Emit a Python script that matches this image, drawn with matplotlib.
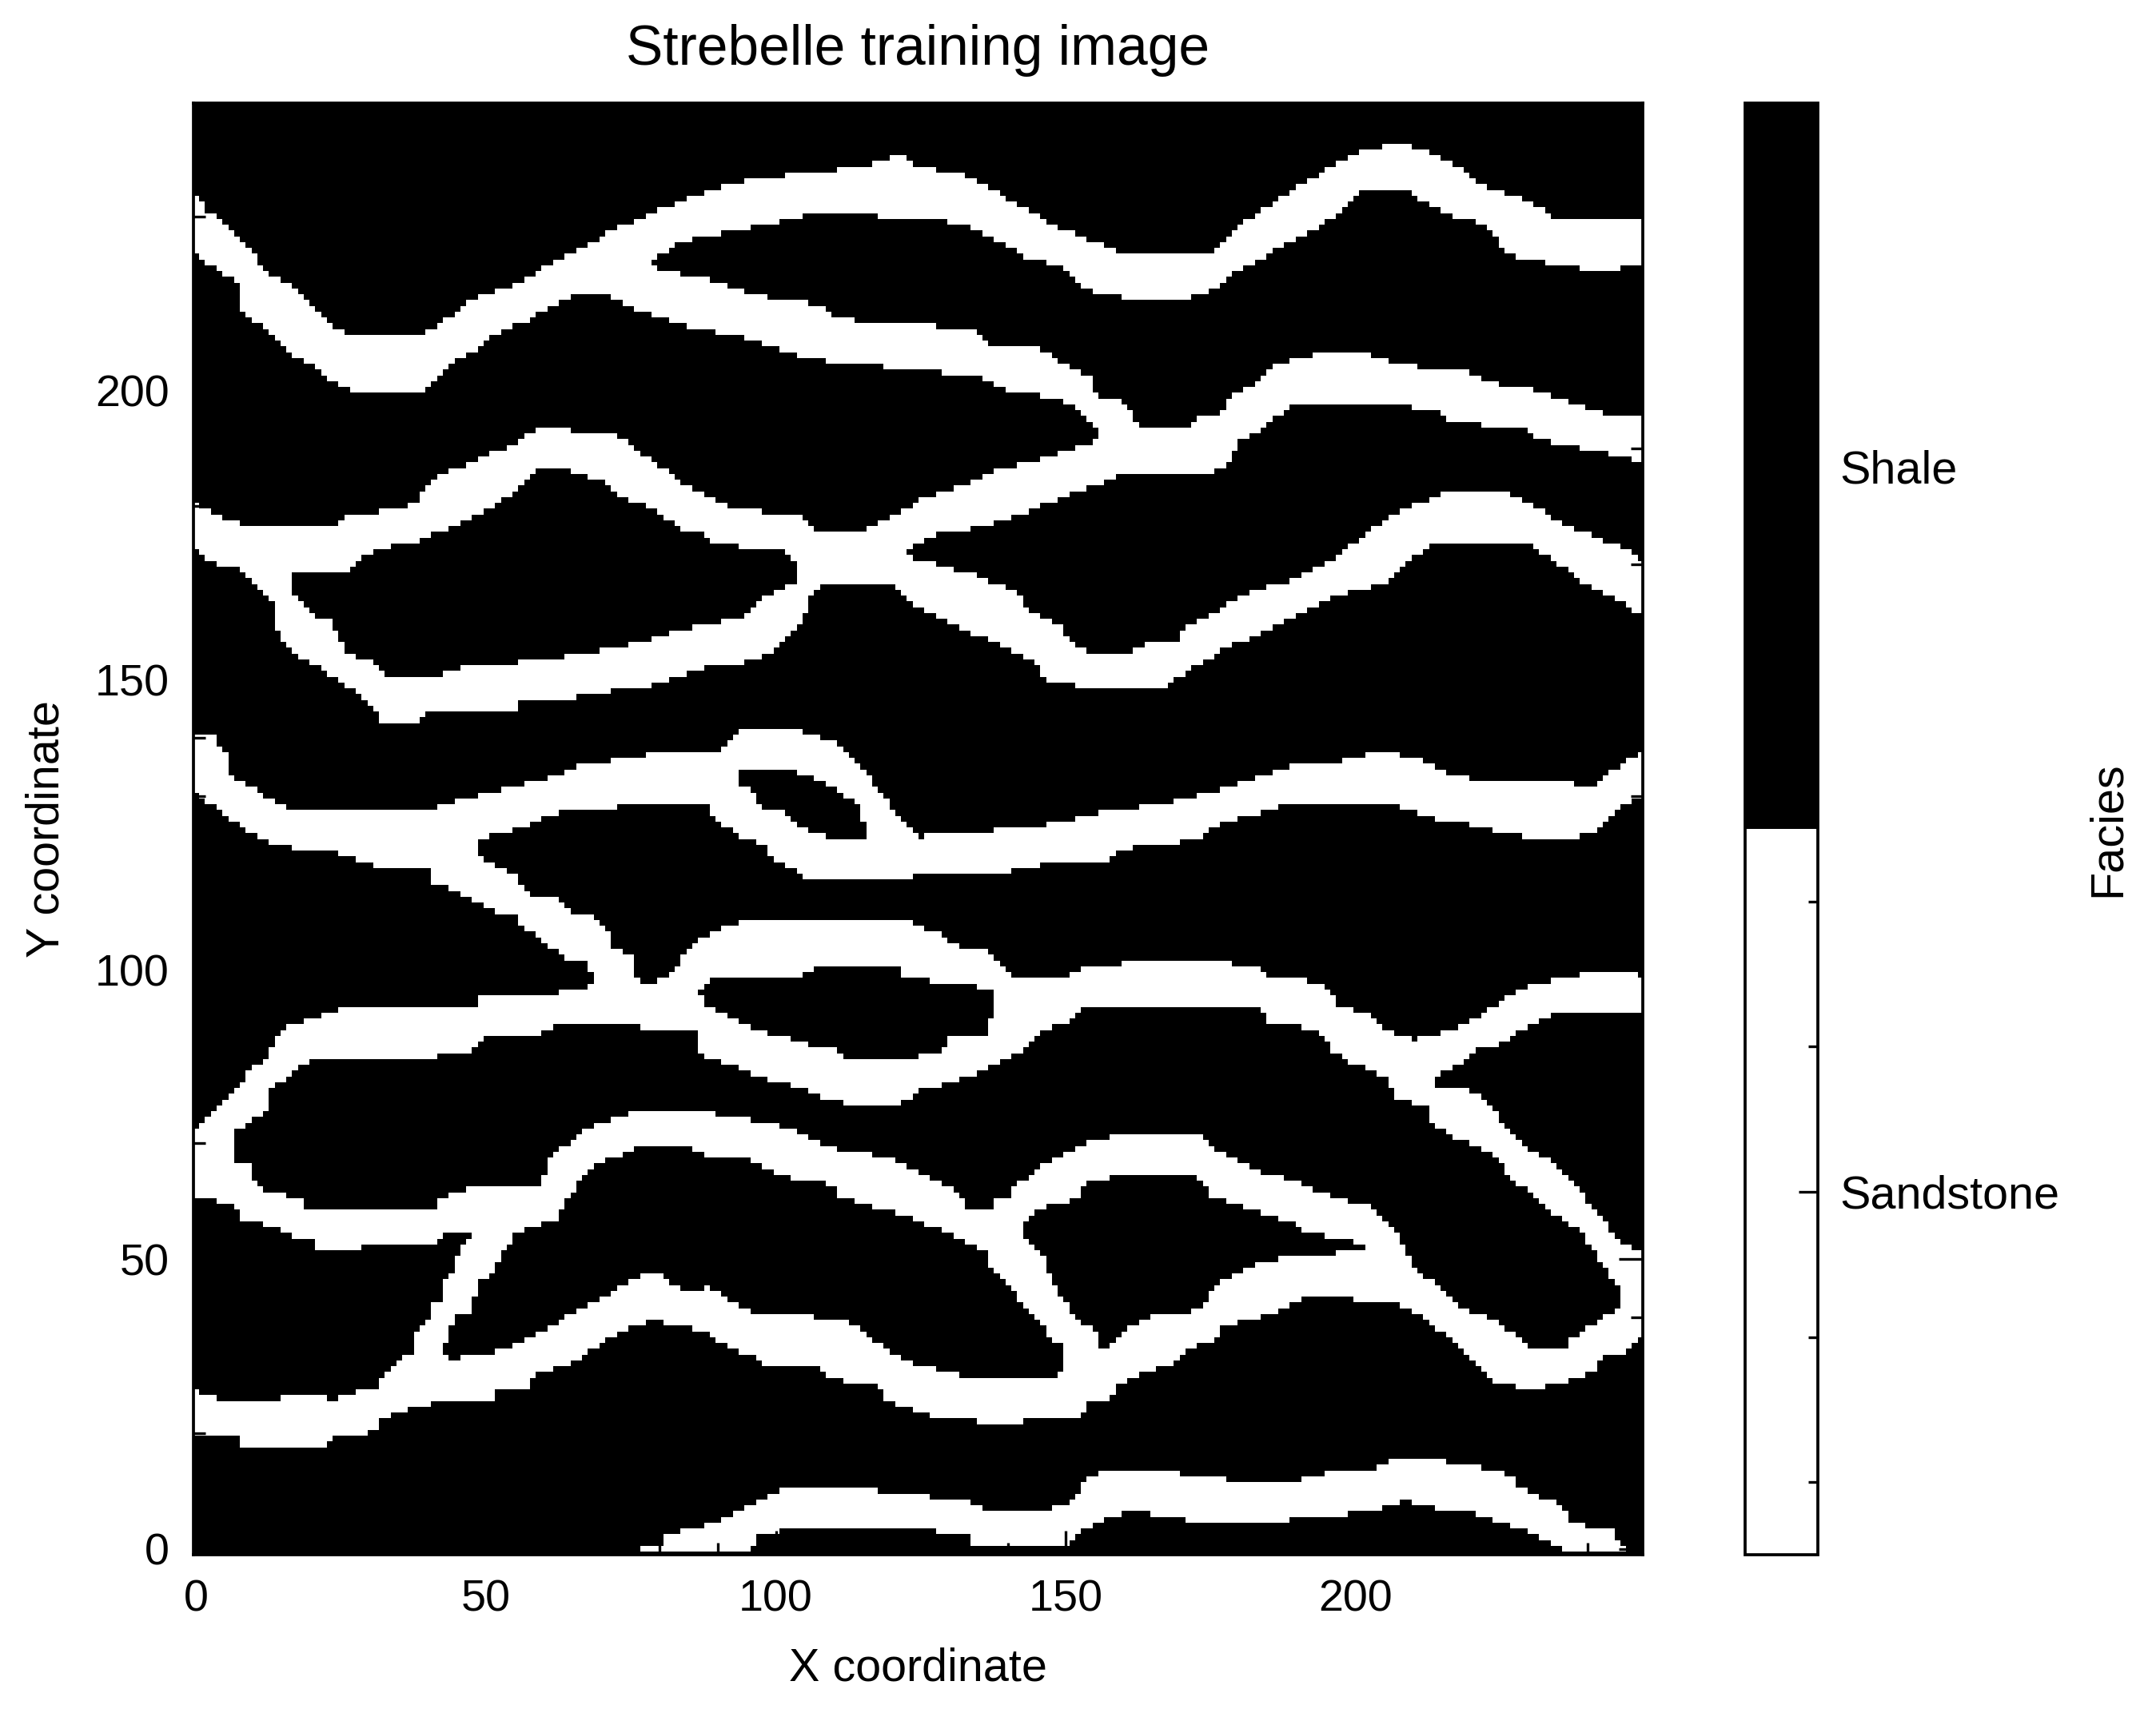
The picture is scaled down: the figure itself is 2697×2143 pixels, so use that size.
import matplotlib
matplotlib.use("Agg")
import matplotlib.pyplot as plt
import numpy as np
from matplotlib.colors import ListedColormap
from matplotlib.path import Path
from matplotlib.ticker import FixedLocator, MultipleLocator

plt.rcParams['font.family'] = ['Liberation Sans', 'DejaVu Sans']

# channel edges, (x, y) in grid units
CH1_UPPER = [(-1,235),(2.3,230.6),(8,225.8),(12.2,220.3),(17.1,217.4),(23.7,210.4),(27,209.6),(36,209.6),(38.5,209.2),(42.6,211.7),(48.4,216.2),(55,218.2),(62.4,222.4),(71.4,227.3),(79.6,231),(87.9,234.3),(96.1,236.3),(105.9,237.6),(114.2,238.4),(121.6,240.5),(124,238.8),(133.4,236.8),(138.4,233.9),(144.1,230.6),(149,227.7),(157.3,224.8),(159.8,223.6),(175.4,223.6),(179.5,228.1),(187.7,233.5),(192.7,236.8),(196.8,239.2),(201.7,241.4),(206.6,242.5),(211.6,241.7),(216.5,239.2),(221.4,235.5),(229.7,232.6),(234.6,229.6),(250,229.6)]
CH1_LOWER = [(-1,223.6),(3.2,221.1),(7.3,218.3),(8.1,213.3),(13.8,209.2),(15.5,206.3),(21.2,203.5),(24.5,200.6),(28.2,199.5),(39.3,199.5),(43.5,204.3),(48.4,206.7),(50.9,209.2),(57.4,212.1),(63.2,215.4),(65.7,216.4),(70.6,216.4),(78.4,222.4),(83.7,225.5),(91.6,227.3),(102.7,229.4),(106.8,230.6),(124.4,229.6),(129.3,229),(134.3,227.7),(139.2,225.2),(143.3,222.8),(149.1,221.1),(152.4,217.8),(155.6,216.6),(162.2,215.6),(170.5,215.6),(177,218.2),(178.7,220.3),(183.6,222.4),(187.7,225.2),(192.7,227.7),(197.6,230.6),(200.9,234.3),(208.7,234.3),(212.8,231.8),(216.5,229.8),(222.3,228.5),(225.6,224),(228,222.8),(232.1,222),(241.6,220.6),(250,221.5)]
CH2_UPPER = [(78.4,222.4),(79.6,220.6),(86.6,219.5),(96.5,216.4),(108.8,214.4),(109.7,212.5),(117.9,211.5),(124.4,211.5),(134.3,210),(137.3,207.6),(145.4,207.4),(149.9,204.3),(154.4,202.2),(154.4,199.3),(159.8,198.1),(162.2,194.4)]
CH2_LOWER = [(70.6,216.4),(76.4,213.7),(84.6,210.9),(94.4,209.2),(101.8,206.3),(111.7,204.4),(124.4,203.6),(135.1,202.2),(140,199.8),(149.1,198.5),(152.8,196.1),(155.6,192.3),(155.6,190.3)]
CH3_UPPER = [(115.8,175.9),(121.6,179.2),(125.2,181.2),(133.4,184.1),(138.4,186.2),(149.1,189.1),(155.6,191.5),(161.4,194.4),(165.5,193.3),(170.5,193.3),(172.9,195.2),(176.6,195.6),(178.7,199.3),(183.6,201.8),(185.7,204.4),(193.5,206.3),(201.7,206.3),(206.6,204.7),(212.8,203.6),(219.8,203),(222.3,201.4),(227.6,200.6),(233,199.3),(237.9,197.7),(243.6,195.6),(250,195.4)]
CH3_LOWER = [(122.5,172),(124.4,173.4),(127.7,175.1),(133.4,175.9),(142.1,178.4),(150.7,182.1),(156.5,184.1),(159.8,185.4),(173.7,185.4),(178.3,187.4),(179.5,191.5),(183.6,192.8),(188.5,197.3),(207.5,197.3),(213.6,196.5),(216.9,194.4),(229.7,193.2),(230.5,191.5),(239.5,189.9),(250,187.4)]
CH4_UPPER = [(-1,181.2),(3.2,178.4),(8.9,176.3),(24.1,176.3),(25.4,178.2),(32.4,179.2),(38.1,180.4),(39.3,183.3),(43.5,186.2),(47.6,187.4),(50.9,189.3),(54.6,190.3),(57.4,192.3),(59.9,193.4),(72.2,192.3),(76.4,189.4),(81.3,185.8),(84.6,183.3),(89.5,181.2),(92.8,179.6),(104.3,178.1),(106.8,175.5),(121,175.5),(122.5,172),(124.4,170.1),(127.3,170.1),(132.6,168.5),(140.9,165.6),(144.1,161.5),(148.2,159.9),(152.4,155.4),(154.4,154.1),(160.2,154.1),(163.5,156.2),(169.2,156.2),(169.6,158.2),(174.6,161.1),(179.5,164),(184.4,166),(189.4,167.3),(192.7,168.9),(196,171),(200.9,174.3),(205.4,178),(211.6,180.8),(214.9,182.2),(225.6,182.2),(230.9,179.6),(237,176.3),(242,174.3),(246.9,172.2),(250,169.3)]
CH4_LOWER = [(-1,173),(2.3,170.1),(7.3,169.7),(16.3,168.3),(25.4,168.3),(30.3,172.2),(38.5,174),(45.1,176.7),(53.3,181.2),(58.7,186.2),(63.6,186.2),(69.8,184.5),(73.5,181.2),(78.8,179.6),(82.9,176.3),(87.1,175.1),(89.9,173.4),(101.8,172.2),(103.9,168.5),(107.6,166),(120.8,166),(124.4,162.3),(129.3,160.3),(133.4,158.2),(140,155.3),(144.1,153.3),(147.4,149.2),(166.3,148.2),(170.5,151.2),(177.4,155.3),(183.6,158.2),(191.8,161.9),(195.9,164.4),(205.8,166.9),(208.7,170.1),(214,173.8),(228.8,174),(234.6,170.1),(239.5,166.4),(244.9,164),(250,160.3)]
CH5_UPPER = [(16.3,168.1),(17.1,164.4),(19.6,161.5),(23.3,159.9),(26.2,154.5),(30.3,152.9),(33.3,150.2),(41,150.2),(45.5,152.1),(56.6,153.1),(64.4,154.1),(74.7,156.1),(85.8,159),(94.9,161.1),(97.7,164),(102.7,166.4),(103.9,168.5)]
CH5_LOWER = [(7.3,169.7),(11.4,165.6),(13,163.2),(14.3,157.4),(17.9,153.7),(23.3,150.8),(29,146.7),(32.4,142.2),(38.5,142.2),(39.3,144),(55.4,144.2),(55.8,146),(63.2,146.7),(79.6,149.2),(87.9,152.1),(96.5,153.3),(100.2,155.8),(104.3,159.9),(105.9,164),(107.6,166)]
CH6_UPPER = [(-1,141),(3.2,140.1),(6,136),(6,133.1),(10.1,131.1),(15.1,128),(35.2,127),(41,127.8),(44.3,129),(52.5,131.1),(59.9,132.7),(65.7,135),(77.6,137),(90.7,137),(91.2,139.3),(94.9,141.8),(102.7,141.8),(110.9,138.9),(115,134.4),(119.9,127.8),(122.4,124.5),(124.4,122.9),(134.3,123.7),(146.6,125),(155.6,127),(167.2,128.6),(177,131.1),(188.5,135),(197.6,136),(204.6,137.8),(211.6,136),(217.7,133.1),(234.6,132.1),(241.2,131.9),(244.9,134.8),(250,137.8)]
CH6_LOWER = [(-1,131.1),(4,127.4),(7.7,124.5),(11.4,122.4),(14.3,121.2),(24.1,120.2),(31.1,117.9),(47.6,121.6),(51.7,123.7),(55.4,124.1),(62.4,127),(72.6,128),(80.5,129),(87.9,128.6),(89.5,125.3),(91.6,124.5),(93.6,122.9),(97.7,121.6),(99.8,118.7),(104.7,116.7),(104.7,115),(121.6,115),(124.4,116.9),(140.4,116.9),(148.2,118.7),(157.3,118.7),(159.8,120.8),(172.9,122.4),(175.4,124.5),(178.7,125.7),(186.9,128),(196.8,129),(206.6,128.2),(214.9,125.7),(220.6,124.9),(226,123.2),(236.2,122.2),(241.2,123.7),(244.9,127.8),(250,129.8)]
CH7_UPPER = [(47.6,121.6),(49.6,118.7),(54.6,116.7),(57.4,113),(61.5,112.8),(64.4,109.7),(67.7,109.5),(70.6,107.6),(71.8,103.9),(75.5,102.3),(76,99),(76.8,97.8)]
CH7_LOWER = [(31.1,117.9),(40.2,117.9),(40.6,115),(43.5,114.2),(47.6,111.8),(51.7,109.7),(55.4,109.3),(55.8,107.6),(60.3,104.4),(63.6,101.9),(67.3,101.5),(68.5,98.2),(67.3,96.9)]
BOTTOM_UPPER = [(76.8,0),(80.5,1.1),(80.5,2),(84.6,3.2),(87.9,4),(90.7,5.2),(92.8,6.1),(96.5,8.1),(99,9.4),(101.8,10.4),(117.9,10.4),(117.9,9.4),(124.4,9.4),(125.2,10.2),(127.3,8.4),(133.4,8.1),(136.3,6.5),(144.1,6.5),(149.1,7.3),(151.5,8.5),(153.6,12.2),(156.5,13.3),(163.5,13.5),(172.5,12.7),(182.4,11.4),(187.7,11.4),(195.5,13.3),(202.5,13.5),(205.8,15.3),(213.6,15.3),(219.8,14.3),(223.9,13.3),(228,12.2),(228,10.4),(230.9,9.4),(235.8,7.3),(236.7,4.5),(239.9,4),(244.9,3.2),(244.9,1.1),(246.9,0.3)]
BOTTOM_LOWER = [(76.8,-0.3),(93.6,-0.3),(96.5,0.3),(96.5,2.4),(102.7,3.4),(124.4,3.4),(133.4,2.3),(134.3,0.3),(150.3,0.3),(152.4,3.2),(156.5,5.2),(161.4,6.5),(169.6,5.2),(174.6,4.3),(192.7,5.2),(202.5,6.5),(208.7,8.4),(210.7,7.7),(215.7,6.5),(220.6,6.1),(225.6,4.4),(227.6,3.6),(229.7,2.8),(232.9,1.1),(235.8,-0.3),(246.9,-0.3)]

# the connected lower network, one outline, with its shale lenses below
NETWORK_OUTLINE = [(-1,60.8),(-1,71.9),(3.2,75.6),(7.3,79.7),(8.9,82.6),(12.2,84.2),(13.4,87.9),(15.5,90),(20.4,91.6),(26.6,93.7),(48.4,93.7),(48.4,95.7),(62.4,95.7),(62.8,97),(67.3,96.9),(76.8,97.8),(79.6,97.8),(82.9,99.8),(84.6,103.5),(87.1,105.6),(91.6,107.6),(96.5,108.9),(121.6,108.9),(124.4,107.6),(128.1,106),(131.4,103.9),(136.7,103.5),(137.6,101.5),(141.3,98),(147.4,98),(153.2,100.2),(163.5,101.5),(173.7,101.5),(183.6,100.5),(184.4,98.8),(190.6,98.6),(195.5,96.5),(196.8,93.7),(201.7,92.4),(205.8,89.1),(210.3,87.9),(216.9,89.5),(223.9,93.7),(228,96.5),(233,97.8),(241.6,99.8),(250,98.8),
                   (250,92.8),(234.6,92.8),(228.8,89.5),(223.9,86.7),(220.6,86.7),(218.6,84.2),(215.7,82.6),(213.6,81.6),(213.6,79.7),(220.6,78.9),(223.7,76.3),(225.7,72.4),(227.8,70.3),(230.6,68.2),(234.8,66.4),(235.8,64.3),(237.8,62.3),(239.8,60.4),(240.8,58.3),(242.8,56.3),(244.8,53.3),(246.8,52.4),(248.9,51.2),(250,50.5),
                   (250,37.4),(248.9,36.3),(247.8,35.4),(246.8,34.4),(244.8,33.3),(242.8,33.3),(241.2,30.8),(234.6,28.3),(228.8,27.5),(223.5,29.1),(221.4,31.6),(217.7,34.5),(214.9,37.3),(211.6,39.8),(208.7,41.4),(205.8,42.7),(196.8,43.1),(191.8,43.5),(185.7,40.6),(177.4,38.6),(175.4,36.1),(171.3,34.5),(167.6,31.6),(162.6,30.3),(158.5,27.9),(157.3,25.4),(153.2,25.4),(152.8,22.5),(145.4,22.5),(140.4,21.5),(128.5,22.5),(124.4,23.4),(122,24.6),(118.7,25.4),(117.9,28.3),(112.5,28.7),(108.8,29.5),(107.6,31.6),(98.6,31.6),(94.9,33.6),(91.6,34.5),(87.9,37.7),(81.3,38.6),(78.8,39.4),(75.5,38.6),(71.4,36.5),(68.5,34.5),(64.4,31.6),(58.7,30.3),(57,27.5),(51.3,27.5),(51.3,25.4),(41.4,25.4),(37.7,24.2),(31.5,22.5),(31.1,20.5),(28.2,19.2),(23.3,19.2),(22.1,17.6),(8.1,17.6),(7.3,19.2),(-1,19.4),
                   (-1,27.5),(1.1,26.6),(5.2,25.4),(14.3,25.4),(14.3,26.5),(20.4,26.5),(24.1,25.4),(24.5,26.5),(31.1,27.5),(31.5,29.5),(33.6,31.6),(35.6,33.6),(37.3,33.6),(37.7,37.3),(40.2,39.4),(41,42.3),(42.5,42.7),(42.6,45.5),(44.3,48.4),(45.5,51.7),(47.6,54.6),(43.5,54.6),(41.4,52.5),(20.3,51.7),(20.3,53.4),(16.3,53.8),(14.3,55.4),(8.1,56.7),(6,59.5)]

LENS_SMALL = [(93.6,134),(103.5,134),(107.6,132.7),(113.8,128.6),(115.8,122.9),(116.7,122),(111.7,122),(104.7,124.1),(101.8,127),(96.5,128.2),(96.5,130.7),(93.6,131.9)]
LENS_BIG = [(20.4,84.6),(41.4,84.6),(41.4,85.8),(47.6,85.8),(49.6,88.7),(59.5,88.7),(62.8,90.8),(76.4,90.8),(76.8,89.8),(86.6,89.1),(86.6,85.8),(88.7,84.6),(91.6,83.8),(96.5,81.7),(99,80.9),(103.9,79.7),(107.6,77.8),(112.5,76.8),(121.6,76.8),(124.4,78.9),(130.2,80.5),(134.3,81.7),(139.2,84.2),(143.3,86.7),(145.4,89.5),(151.5,91.2),(152.8,93.7),(183.6,93.7),(184.8,90.8),(193.5,89.5),(195.8,85.8),(198.4,84.2),(202.5,82.6),(205.8,80.5),(206.6,77.6),(212.8,76.4),(212.8,73.5),(216.9,71),(223.7,68.2),(226.7,63.4),(228.8,62.3),(231.8,59.3),(234.8,57.3),(237.8,55.4),(239.8,53.3),(241.7,50.3),(243.7,47.3),(244.8,45.2),(245.8,44.3),(244.8,41.3),(241.7,39.3),(239.8,38.3),(238.7,37.2),(236.8,36.3),(235.8,34.4),(229.7,34.4),(228.8,36.3),(226.7,37.2),(225.7,38.3),(223.7,39.3),(222.7,40.2),(220.6,40.6),(217.7,41.4),(215.7,44.3),(209.9,48.4),(208.3,52.1),(205.8,55.8),(203.3,58.7),(200.5,59.5),(193.5,61.6),(188.5,63.6),(181.6,65.7),(177.4,67.8),(174.6,69.8),(172.5,71.5),(159.8,71.5),(155.6,70.6),(152.8,69.6),(147.4,67.3),(143.3,63.6),(140.4,62.8),(140.4,60.8),(137.1,60.4),(137.1,58.7),(133,58.7),(130.2,62.8),(127.3,63.2),(124.4,65.3),(118.3,67.8),(110.9,68.6),(103.5,71.9),(99.4,73.5),(89.5,74.9),(86.2,75.6),(76.4,75.6),(70.6,73.5),(66.5,72.3),(64.4,70.2),(61.5,68.6),(60.3,66.1),(59.5,62.4),(47.6,62.4),(41.4,60.5),(41.4,58.7),(18.4,58.7),(18.4,60.4),(12.2,61.6),(10.1,62.8),(8.9,66.5),(6.3,66.9),(6.3,70.6),(7.3,72.7),(9.3,73.5),(12.2,75.6),(12.2,78.9),(15.1,80.9),(17.1,82.5)]
LENS_MID = [(86.6,95.7),(87.9,97.8),(92.8,98.8),(104.7,99),(106.8,100.6),(120.8,100.6),(121.6,99),(124.4,98.8),(127.3,97.8),(136.3,96.8),(137.3,95.7),(137.3,92.8),(138.4,92.4),(137.3,92),(136.3,88.7),(130.2,88.3),(128.1,85.8),(124.4,84.9),(111.7,84.9),(111.7,85.8),(106.8,86.7),(101.8,88.3),(97.7,89.1),(93.6,91.2),(89.5,92.8),(87.9,93.7)]
LENS_LOW_LEFT = [(42.6,34),(44.3,39),(45.1,40.2),(47.6,40.6),(48.4,45.5),(50.9,47.6),(52.5,50.5),(54.6,53.8),(57.4,55.4),(62.4,56.7),(62.8,58.7),(65.7,62.8),(67.7,64.9),(69.8,66.7),(73.5,67.8),(76.4,69.6),(84.6,69.6),(87.9,67.8),(94.9,67.8),(97.7,65.7),(103.5,63.6),(110.5,62.8),(110.9,60.8),(117.9,58.7),(124.4,56.7),(131.4,53.4),(136.3,51.3),(136.3,48.8),(140,45.5),(142.5,42.3),(145,39.4),(147.4,36.1),(149.3,35.3),(149.3,30.8),(148.7,29.5),(134.3,29.5),(124.4,31.6),(118.7,34.5),(115,37.3),(112.5,39.4),(104.7,40.2),(96.9,40.6),(91.6,42.7),(88.7,45.2),(84.6,44.7),(81.7,45.5),(79.6,47.4),(77.6,47.4),(73.5,45.5),(70.6,43.5),(65.7,41.4),(62.4,39),(58.7,36.9),(53.3,34.5),(47.6,33.2),(43.5,32.8)]
LENS_LOW_RIGHT = [(142.2,56.2),(145.4,58.7),(148.7,59.5),(152.4,60.8),(152.8,62.8),(156.5,63.6),(159.8,64.6),(171.3,64.6),(173.7,63.2),(174.6,60.8),(179.5,59.5),(184.4,57.5),(188.5,56.7),(190.6,54.6),(198.4,53.4),(200.9,52.5),(201.7,51.3),(188.5,50.5),(183.6,49.5),(179.5,47.6),(175.4,45.5),(173.7,41.4),(169.6,40.5),(165.5,40.2),(161.4,38.6),(158.1,36.1),(157.3,34.9),(155.5,34.9),(155.5,37.3),(152.4,39),(149.5,42.7),(147.4,46.8),(146.2,50.1),(144.1,52.5),(142.2,54.2)]

FACIES_NAMES = ["Sandstone", "Shale"]
FACIES_TICKS = [0.25, 0.75]
FACIES_MINOR = [0.05, 0.15, 0.35, 0.45, 0.55, 0.65, 0.85, 0.95]
NX, NY = 250, 250


def inside(outline, points):
    return Path(outline).contains_points(points).reshape(NY, NX)


def build_grid():
    xx, yy = np.meshgrid(np.arange(NX), np.arange(NY))
    points = np.column_stack([xx.ravel(), yy.ravel()])
    grid = np.ones((NY, NX))  # 1 = shale

    ribbons = [(CH1_UPPER, CH1_LOWER), (CH2_UPPER, CH2_LOWER), (CH3_UPPER, CH3_LOWER),
               (CH4_UPPER, CH4_LOWER), (CH5_UPPER, CH5_LOWER), (CH6_UPPER, CH6_LOWER),
               (CH7_UPPER, CH7_LOWER), (BOTTOM_UPPER, BOTTOM_LOWER)]
    for upper, lower in ribbons:
        grid[inside(upper + lower[::-1], points)] = 0
    grid[inside(NETWORK_OUTLINE, points)] = 0

    for lens in (LENS_SMALL, LENS_BIG, LENS_MID, LENS_LOW_LEFT, LENS_LOW_RIGHT):
        grid[inside(lens, points)] = 1
    return grid


W, H = 2697, 2143
fig = plt.figure(figsize=(W / 300, H / 300), dpi=300)
ax = fig.add_axes([241.5 / W, 1 - 1945 / H, (2055 - 241.5) / W, (1945 - 129) / H])
cax = fig.add_axes([2183 / W, 1 - 1945 / H, (2274 - 2183) / W, (1945 - 129) / H])

cmap = ListedColormap(["white", "black"])
im = ax.imshow(build_grid(), origin="lower", cmap=cmap, vmin=0, vmax=1,
               extent=(-0.5, 249.5, -0.5, 249.5), interpolation="nearest", aspect="auto")
ax.set_facecolor("black")
ax.set_xlim(-0.5, 249.5)
ax.set_ylim(-1, 249.6)

ax.xaxis.set_major_locator(MultipleLocator(50))
ax.yaxis.set_major_locator(MultipleLocator(50))
ax.xaxis.set_minor_locator(MultipleLocator(10))
ax.yaxis.set_minor_locator(MultipleLocator(10))
ax.tick_params(which="both", direction="in", top=True, right=True, width=0.8, labelsize=13.4)
ax.tick_params(which="major", length=7.2, pad=7.2)
ax.tick_params(which="minor", length=3.6)
for spine in ax.spines.values():
    spine.set_linewidth(0.9)

ax.set_title("Strebelle training image", fontsize=16.7, pad=11.6)
ax.set_xlabel("X coordinate", fontsize=13.8, labelpad=8)
ax.set_ylabel("Y coordinate", fontsize=13.8, labelpad=8)

cb = fig.colorbar(im, cax=cax, ticks=FACIES_TICKS)
cb.ax.set_yticklabels(FACIES_NAMES)
cb.ax.yaxis.set_minor_locator(FixedLocator(FACIES_MINOR))
cb.ax.tick_params(which="major", direction="in", length=5.8, width=0.8, labelsize=13.8, pad=6.5)
cb.ax.tick_params(which="minor", direction="in", length=2.9, width=0.8)
cb.outline.set_linewidth(0.9)
cb.set_label("Facies", fontsize=13.8, labelpad=8)

fig.savefig("out.png", dpi=300)
